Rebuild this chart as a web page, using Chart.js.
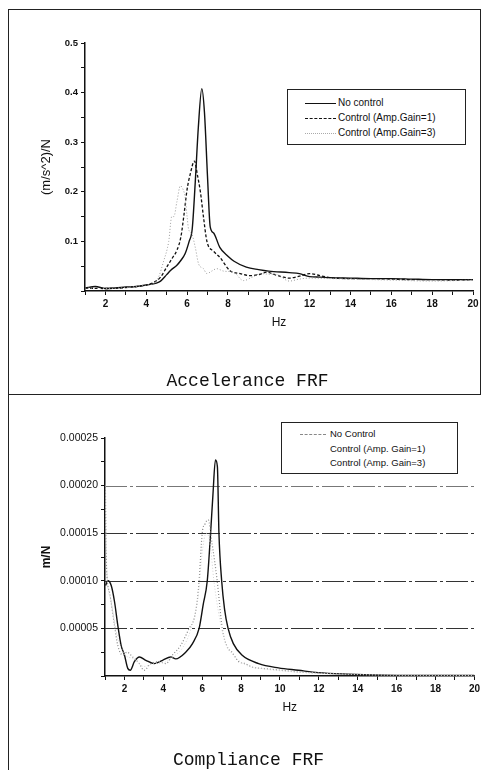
<!DOCTYPE html>
<html lang="en">

<head>
    <meta charset="UTF-8">
    <title>Accelerance and Compliance FRF</title>
    <script src="https://cdn.jsdelivr.net/npm/chart.js"></script>
    <style>
        body { margin: 0; width: 483px; height: 770px; position: relative; background: #fff; overflow: hidden; }
        canvas { position: absolute; left: 0; }
        .frame { position: absolute; border: 0 solid #222; }
        .caption { position: absolute; width: 483px; text-align: center; font-family: "Liberation Mono", monospace; font-size: 18px; color: #111; }
        .legend { position: absolute; border: 1px solid #222; background: #fff; font-family: "Liberation Sans", Arial, sans-serif; color: #111; }
        .legend .row { position: absolute; height: 15px; line-height: 15px; white-space: nowrap; }
        .legend .sample { position: absolute; top: 7px; height: 0; }
    </style>
</head>

<body>

    <!-- panel frames -->
    <div class="frame" style="left:8px;top:9px;width:471px;height:384px;border-width:1.5px;"></div>
    <div class="frame" style="left:8px;top:394px;width:0;height:376px;border-left-width:1.5px;"></div>

    <canvas id="accelChart" width="483" height="385" style="top:0"></canvas>
    <canvas id="complianceChart" width="483" height="375" style="top:395px"></canvas>

    <!-- Legends -->
    <div class="legend" style="left:287px;top:89px;width:177px;height:54px;font-size:10px;">
        <div class="row" style="left:50px;top:5px;">No control</div>
        <div class="sample" style="left:17px;top:12.5px;width:31px;border-top:1.2px solid #111;"></div>
        <div class="row" style="left:50px;top:20px;">Control (Amp.Gain=1)</div>
        <div class="sample" style="left:17px;top:27.5px;width:31px;border-top:1.2px dashed #111;"></div>
        <div class="row" style="left:50px;top:35px;">Control (Amp.Gain=3)</div>
        <div class="sample" style="left:17px;top:42.5px;width:31px;border-top:1px dotted #aaa;"></div>
    </div>
    <div class="legend" style="left:281px;top:422px;width:175px;height:50px;font-size:9.5px;">
        <div class="row" style="left:48px;top:3px;">No Control</div>
        <div class="sample" style="left:18px;top:10.5px;width:26px;border-top:1px dashed #888;"></div>
        <div class="row" style="left:48px;top:18px;">Control (Amp. Gain=1)</div>
        <div class="row" style="left:48px;top:32px;">Control (Amp. Gain=3)</div>
    </div>

    <div class="caption" style="left:6px;top:371px;">Accelerance FRF</div>
    <div class="caption" style="left:7px;top:750px;">Compliance FRF</div>

    <script>
        // Accelerance FRF, (m/s^2)/N against Hz
        const accelFreqNoCtrl = [1, 1.5, 2, 2.5, 3, 3.5, 4, 4.5, 4.7, 5, 5.2, 5.5, 5.7, 5.9, 6.1, 6.25, 6.4, 6.55, 6.72, 6.85, 7.0, 7.13, 7.3, 7.6, 8.0, 8.3, 8.9, 9.5, 10, 11, 11.5, 12, 12.5, 13, 14, 15, 16, 17, 18, 19, 20];
        const accelNoCtrl = [0.006, 0.009, 0.005, 0.006, 0.008, 0.009, 0.012, 0.016, 0.02, 0.033, 0.042, 0.052, 0.062, 0.075, 0.1, 0.125, 0.22, 0.33, 0.408, 0.36, 0.23, 0.13, 0.117, 0.088, 0.07, 0.06, 0.048, 0.043, 0.04, 0.037, 0.035, 0.029, 0.028, 0.027, 0.026, 0.025, 0.025, 0.024, 0.023, 0.023, 0.023];

        const accelFreqGain1 = [1, 2, 3, 4, 4.3, 4.7, 5.0, 5.3, 5.5, 5.7, 5.85, 6.0, 6.15, 6.36, 6.5, 6.65, 6.8, 6.97, 7.3, 7.6, 8.1, 8.6, 9.1, 9.5, 9.9, 10.3, 10.7, 11.0, 11.5, 12.0, 12.5, 13, 14, 15, 16, 17, 18, 19, 20];
        const accelGain1 = [0.006, 0.005, 0.007, 0.012, 0.016, 0.028, 0.048, 0.068, 0.082, 0.11, 0.155, 0.205, 0.235, 0.262, 0.235, 0.2, 0.15, 0.1, 0.08, 0.068, 0.041, 0.035, 0.031, 0.033, 0.038, 0.033, 0.028, 0.026, 0.03, 0.035, 0.031, 0.027, 0.025, 0.025, 0.024, 0.023, 0.023, 0.022, 0.023];

        const accelFreqGain3 = [1, 2, 3, 4, 4.4, 4.6, 4.85, 5.1, 5.25, 5.35, 5.5, 5.67, 5.8, 5.9, 6.0, 6.07, 6.23, 6.4, 6.56, 6.8, 6.97, 7.2, 7.45, 7.8, 8.27, 8.76, 9.2, 9.6, 10.0, 10.4, 11.0, 11.5, 12.0, 13, 14, 16, 18, 20];
        const accelGain3 = [0.006, 0.005, 0.007, 0.012, 0.016, 0.028, 0.06, 0.1, 0.15, 0.15, 0.18, 0.212, 0.205, 0.19, 0.15, 0.125, 0.115, 0.088, 0.055, 0.045, 0.035, 0.04, 0.045, 0.04, 0.038, 0.021, 0.028, 0.035, 0.034, 0.033, 0.02, 0.024, 0.026, 0.025, 0.024, 0.022, 0.02, 0.022];

        // Compliance FRF, m/N against Hz
        const compFreqNoCtrl = [1.03, 1.15, 1.32, 1.49, 1.66, 1.83, 2.0, 2.17, 2.3, 2.51, 2.77, 3.1, 3.53, 3.96, 4.38, 4.64, 5.15, 5.5, 5.84, 6.05, 6.26, 6.43, 6.55, 6.68, 6.78, 6.86, 7.0, 7.15, 7.33, 7.6, 8.04, 8.9, 9.92, 10.94, 11.96, 13.5, 16, 18, 20];
        const compNoCtrl = [9.5e-5, 10e-5, 9.5e-5, 7.8e-5, 5.3e-5, 3.2e-5, 2.2e-5, 0.8e-5, 0.6e-5, 1.5e-5, 2.0e-5, 1.65e-5, 1.3e-5, 1.65e-5, 2.0e-5, 1.8e-5, 2.5e-5, 3.4e-5, 5.0e-5, 7.5e-5, 10e-5, 15e-5, 19e-5, 22.7e-5, 22e-5, 15e-5, 10e-5, 7e-5, 5e-5, 3.4e-5, 2.2e-5, 1.3e-5, 0.85e-5, 0.6e-5, 0.35e-5, 0.2e-5, 0.07e-5, 0.05e-5, 0.05e-5];

        const compFreqGain1 = [1.0, 1.02, 1.06, 1.23, 1.49, 1.66, 1.91, 2.13, 2.42, 2.77, 3.0, 3.36, 3.79, 4.13, 4.47, 4.89, 5.33, 5.58, 5.75, 5.84, 6.0, 6.15, 6.31, 6.5, 6.77, 7.03, 7.3, 7.53, 7.88, 8.22, 8.56, 9.24, 10.1, 10.94, 12, 14, 16, 20];
        const compGain1 = [23e-5, 20e-5, 12.4e-5, 8.8e-5, 5.3e-5, 3.2e-5, 2.2e-5, 2.5e-5, 2.0e-5, 1.3e-5, 0.6e-5, 1.3e-5, 1.5e-5, 1.3e-5, 2.2e-5, 3.2e-5, 5.0e-5, 6.0e-5, 8.0e-5, 10e-5, 15e-5, 16e-5, 16.4e-5, 14e-5, 10e-5, 5.0e-5, 3.0e-5, 2.5e-5, 1.5e-5, 1.3e-5, 0.95e-5, 0.77e-5, 0.6e-5, 0.42e-5, 0.3e-5, 0.15e-5, 0.08e-5, 0.05e-5];

        const compFreqGain3 = [1.0, 1.1, 1.3, 1.6, 2.0, 2.5, 3.0, 3.5, 4.0, 4.5, 5.0, 5.4, 5.8, 6.0, 6.2, 6.4, 6.6, 6.9, 7.2, 7.6, 8.2, 9, 10, 12, 14, 20];
        const compGain3 = [20e-5, 11e-5, 8e-5, 4.5e-5, 2.3e-5, 1.8e-5, 1.0e-5, 1.3e-5, 1.4e-5, 2.0e-5, 3.0e-5, 4.8e-5, 8.5e-5, 13e-5, 15e-5, 14e-5, 10e-5, 6e-5, 3.5e-5, 2.2e-5, 1.2e-5, 0.8e-5, 0.55e-5, 0.3e-5, 0.15e-5, 0.05e-5];

        const accelYTicks = [0.1, 0.2, 0.3, 0.4, 0.5];
        const compYTicks = [0.00005, 0.00010, 0.00015, 0.00020, 0.00025];
        const compGridValues = [0.00005, 0.00010, 0.00015, 0.00020];
        const freqTicks = [2, 4, 6, 8, 10, 12, 14, 16, 18, 20];

        const pts = (xs, ys) => xs.map((x, i) => ({ x: x, y: ys[i] }));

        const xTickFont = { family: 'Liberation Sans', size: 10, weight: 'bold' };
        const titleFont = { family: 'Liberation Sans', size: 12 };

        function xScale() {
            return {
                type: 'linear', min: 1, max: 20,
                afterBuildTicks: s => { s.ticks = []; for (let v = 1; v <= 20; v++) s.ticks.push({ value: v }); },
                ticks: {
                    autoSkip: false, maxRotation: 0, padding: 3, color: '#111', font: xTickFont,
                    callback: v => freqTicks.includes(v) ? String(v) : ''
                },
                grid: { drawOnChartArea: false, tickLength: 4, tickColor: '#111', tickWidth: 1 },
                border: { color: '#111', width: 1.5 },
                title: { display: true, text: 'Hz', color: '#111', font: titleFont, padding: { top: 4, bottom: 4 } },
                afterFit: s => { s.height = 43; }
            };
        }

        function yScale(max, step, labels, fmt, title, width, tickFont, tFont) {
            return {
                type: 'linear', min: 0, max: max,
                afterBuildTicks: s => { s.ticks = []; for (let i = 0; i <= 10; i++) s.ticks.push({ value: i * step }); },
                ticks: {
                    autoSkip: false, padding: 3, color: '#111', font: tickFont,
                    callback: (v, i) => (i % 2 === 0 && i > 0) ? labels[i / 2 - 1].toFixed(fmt) : ''
                },
                grid: { drawOnChartArea: false, tickLength: 4, tickColor: '#111', tickWidth: 1 },
                border: { color: '#111', width: 1.5 },
                title: { display: true, text: title, color: '#111', font: tFont, padding: { top: 4, bottom: 4 } },
                afterFit: s => { s.width = width; }
            };
        }

        // dash-dot horizontal lines on the compliance plot
        const dashGrid = {
            id: 'dashGrid',
            beforeDatasetsDraw(chart) {
                const { ctx, chartArea, scales } = chart;
                ctx.save();
                ctx.lineWidth = 1;
                ctx.setLineDash([22, 3, 3, 3]);
                compGridValues.forEach((v, i) => {
                    const y = Math.round(scales.y.getPixelForValue(v)) + 0.5;
                    ctx.strokeStyle = i === compGridValues.length - 1 ? '#777' : '#333';
                    ctx.beginPath();
                    ctx.moveTo(chartArea.left, y);
                    ctx.lineTo(chartArea.right, y);
                    ctx.stroke();
                });
                ctx.restore();
            }
        };

        const common = {
            responsive: false,
            animation: false,
            devicePixelRatio: 1,
            parsing: false,
            elements: { point: { radius: 0 }, line: { tension: 0.35, cubicInterpolationMode: 'monotone' } },
            plugins: { legend: { display: false }, tooltip: { enabled: false } }
        };

        new Chart(document.getElementById('accelChart'), {
            type: 'line',
            data: {
                datasets: [
                    { label: 'Control (Amp.Gain=3)', data: pts(accelFreqGain3, accelGain3), borderColor: '#9a9a9a', borderWidth: 1, borderDash: [1, 2] },
                    { label: 'Control (Amp.Gain=1)', data: pts(accelFreqGain1, accelGain1), borderColor: '#111', borderWidth: 1.3, borderDash: [3, 2] },
                    { label: 'No control', data: pts(accelFreqNoCtrl, accelNoCtrl), borderColor: '#111', borderWidth: 1.4 }
                ]
            },
            options: Object.assign({}, common, {
                layout: { padding: { left: 35, right: 10, top: 43, bottom: 51 } },
                scales: {
                    x: xScale(),
                    y: yScale(0.5, 0.05, accelYTicks, 1, '(m/s^2)/N', 50,
                        { family: 'Liberation Sans', size: 9.5, weight: 'bold' },
                        { family: 'Liberation Sans', size: 13 })
                }
            })
        });

        new Chart(document.getElementById('complianceChart'), {
            type: 'line',
            data: {
                datasets: [
                    { label: 'Control (Amp. Gain=3)', data: pts(compFreqGain3, compGain3), borderColor: '#d4d4d4', borderWidth: 1, borderDash: [1, 2] },
                    { label: 'Control (Amp. Gain=1)', data: pts(compFreqGain1, compGain1), borderColor: '#888', borderWidth: 1.2, borderDash: [1, 2] },
                    { label: 'No Control', data: pts(compFreqNoCtrl, compNoCtrl), borderColor: '#111', borderWidth: 1.4 }
                ]
            },
            options: Object.assign({}, common, {
                layout: { padding: { left: 35, right: 6, top: 43, bottom: 51 } },
                scales: {
                    x: xScale(),
                    y: yScale(0.00025, 0.000025, compYTicks, 5, 'm/N', 70,
                        { family: 'Liberation Sans', size: 10.5 },
                        { family: 'Liberation Sans', size: 12, weight: 'bold' })
                }
            }),
            plugins: [dashGrid]
        });
    </script>

</body>

</html>
